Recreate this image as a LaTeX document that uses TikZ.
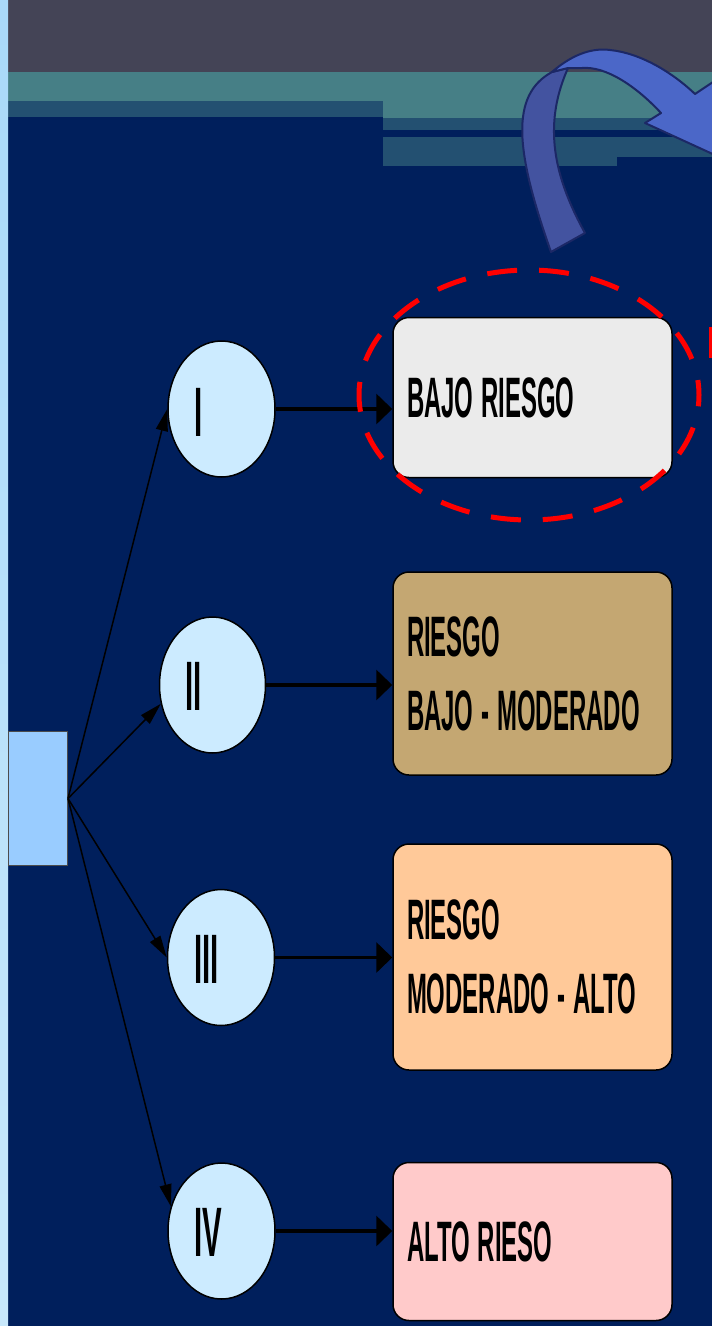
\documentclass[tikz,border=0pt]{standalone}
\usepackage{fontspec}
\setmainfont{Liberation Sans}
\usepackage{graphicx}
\usetikzlibrary{shapes.geometric,arrows.meta,calc}
\definecolor{bgnavy}{HTML}{001F5C}
\definecolor{stripTop}{HTML}{A9D9F9}
\definecolor{stripBot}{HTML}{C8E8FB}
\definecolor{bandgray}{HTML}{444456}
\definecolor{bandteal}{HTML}{467F86}
\definecolor{banddark}{HTML}{235071}
\definecolor{arrowdark}{HTML}{4353A0}
\definecolor{arrowlight}{HTML}{4B67C8}
\definecolor{arrowline}{HTML}{1C2866}
\definecolor{leftbox}{HTML}{99CCFF}
\definecolor{circfill}{HTML}{CCEBFF}
\definecolor{boxA}{HTML}{EBEBEB}
\definecolor{boxB}{HTML}{C4A772}
\definecolor{boxC}{HTML}{FFC999}
\definecolor{boxD}{HTML}{FFCACA}
\newcommand{\narr}[1]{\scalebox{0.42}[1]{#1}}
\begin{document}
\begin{tikzpicture}[x=1pt,y=-1pt,
  circ/.style={ellipse,draw=black,line width=1.5pt,fill=circfill,minimum width=107pt,minimum height=136pt,inner sep=0pt},
  numtxt/.style={inner sep=0pt,text=black,font=\bfseries\fontsize{70}{80}\selectfont},
  riskbox/.style={rectangle,rounded corners=16pt,draw=black,line width=1.5pt,minimum width=279pt,text width=251pt,inner xsep=14pt,inner ysep=0pt,align=left,text=black,font=\bfseries\fontsize{57}{74}\selectfont},
  fanarrow/.style={draw=black,line width=1.5pt,-{Triangle[length=22pt,width=12pt]}},
  hzarrow/.style={draw=black,line width=3.5pt,-{Triangle[length=16pt,width=30pt]}}]
\useasboundingbox (0,0) rectangle (712,1326);
\clip (0,0) rectangle (712,1326);
% background
\fill[bgnavy] (0,0) rectangle (712,1326);
\fill[bandgray] (8,0) rectangle (712,72);
\fill[bandteal] (8,72) rectangle (712,101);
\fill[bandteal] (383,101) rectangle (712,118);
\fill[banddark] (8,101) rectangle (383,117);
\fill[banddark] (383,118) rectangle (712,130);
\fill[banddark] (383,137) rectangle (712,157);
\fill[banddark] (383,157) rectangle (617,166);
\shade[top color=stripTop,bottom color=stripBot] (0,0) rectangle (8,1326);
% curved blue arrow
\filldraw[fill=arrowdark,draw=arrowline,line width=2pt,line join=round]
  (551,252) .. controls (515,150) and (510,95) .. (552,72) -- (568,68)
  .. controls (545,120) and (550,170) .. (585,233) -- cycle;
\filldraw[fill=arrowlight,draw=arrowline,line width=2pt,line join=round]
  (552,72) .. controls (575,52) and (595,48) .. (610,50)
  .. controls (640,53) and (672,72) .. (695,94) -- (728,72) -- (765,178)
  -- (645,123) -- (661,113) .. controls (635,85) and (605,66) .. (582,68)
  -- (568,68) -- cycle;
% left box
\node[draw=black!70,line width=1pt,fill=leftbox,minimum width=59pt,minimum height=134pt,inner sep=0pt] (lb) at (38,798.5) {};
% circles
\node[circ] (c1) at (221.5,409) {};
\node[circ,minimum width=106pt] (c2) at (212.5,685) {};
\node[circ] (c3) at (221,957.5) {};
\node[circ] (c4) at (221.5,1231) {};
\node[numtxt,anchor=base west] (n1) at ($(c1.center)+(-27,27)$) {\narr{I}};
\node[numtxt,anchor=base west] (n2) at ($(c2.center)+(-27,25)$) {\narr{II}};
\node[numtxt,anchor=base west] (n3) at ($(c3.center)+(-27,25.5)$) {\narr{III}};
\node[numtxt,anchor=base west] (n4) at ($(c4.center)+(-27,25)$) {\narr{IV}};
% risk boxes
\node[riskbox,fill=boxA,minimum height=160pt] (b1) at (532.5,397.5) {\narr{BAJO RIESGO}};
\node[riskbox,fill=boxB,minimum height=203pt] (b2) at (532.5,673.5) {\narr{RIESGO}\\\narr{BAJO - MODERADO}};
\node[riskbox,fill=boxC,minimum height=226pt] (b3) at (532.5,957) {\narr{RIESGO}\\\narr{MODERADO - ALTO}};
\node[riskbox,fill=boxD,minimum height=158pt] (b4) at (532.5,1241.5) {\narr{ALTO RIESO}};
% fan arrows
\draw[fanarrow] (lb.east) -- (c1.west);
\draw[fanarrow] (lb.east) -- (c2.200);
\draw[fanarrow] (lb.east) -- (c3.west);
\draw[fanarrow] (lb.east) -- (c4.154);
% horizontal arrows
\draw[hzarrow] (c1.east) -- (c1.east -| b1.west);
\draw[hzarrow] (c2.east) -- (c2.east -| b2.west);
\draw[hzarrow] (c3.east) -- (c3.east -| b3.west);
\draw[hzarrow] (c4.east) -- (c4.east -| b4.west);
% red dashed highlight
\draw[red,line width=5pt,dash pattern=on 30pt off 22pt,dash phase=15pt] (529,395) ellipse [x radius=170pt,y radius=125pt];
\fill[red] (709,327) rectangle (712,358);
\end{tikzpicture}
\end{document}
